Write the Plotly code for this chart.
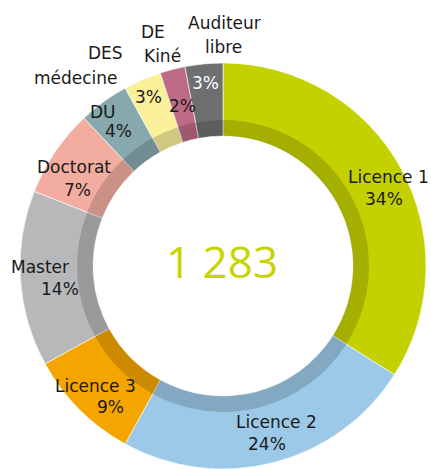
import plotly.graph_objects as go

# ---- data ----
categories = ["Licence 1", "Licence 2", "Licence 3", "Master", "Doctorat",
              "DU", "DES médecine", "DE Kiné", "Auditeur libre"]
shares = [34, 24, 9, 14, 7, 4, 3, 2, 3]
total_label = "1 283"
colors = ["#c4d100", "#9dc9e8", "#f5a500", "#b7b8ba", "#f2aca0",
          "#87a8ad", "#faf09a", "#bd6a87", "#6e6f71"]

# ---- layout ----
W, H = 431, 469
FONT = "DejaVu Sans"
cx, r_out, r_mid, r_in = 223, 203, 146, 130
cy_b = 203  # centre from bottom (px)


def dom(r):
    return dict(x=[(cx - r) / W, (cx + r) / W], y=[(cy_b - r) / H, (cy_b + r) / H])


fig = go.Figure()
fig.add_trace(go.Pie(
    values=shares, labels=categories, sort=False, direction="clockwise",
    rotation=0, hole=r_in / r_out, marker=dict(colors=colors, line=dict(color="white", width=0.6)),
    textinfo="none", hoverinfo="label+percent", domain=dom(r_out), showlegend=False,
))
fig.add_trace(go.Pie(
    values=shares, labels=categories, sort=False, direction="clockwise",
    rotation=0, hole=r_in / r_mid,
    marker=dict(colors=["rgba(0,0,0,0.16)"] * len(shares), line=dict(width=0)),
    textinfo="none", hoverinfo="skip", domain=dom(r_mid), showlegend=False,
))

# label lines: (text, x px, y px, colour)
label_lines = [
    ("Licence 1", 388, 177, "#1a1a1a"), ("34%", 384, 199, "#1a1a1a"),
    ("Licence 2", 276, 422, "#1a1a1a"), ("24%", 267, 444, "#1a1a1a"),
    ("Licence 3", 95, 386, "#1a1a1a"), ("9%", 111, 407, "#1a1a1a"),
    ("Master", 40, 267, "#1a1a1a"), ("14%", 60, 289, "#1a1a1a"),
    ("Doctorat", 74, 167, "#1a1a1a"), ("7%", 77, 190, "#1a1a1a"),
    ("DU", 103, 112, "#1a1a1a"), ("4%", 119, 131, "#1a1a1a"),
    ("DES", 105, 53, "#1a1a1a"), ("médecine", 76, 78, "#1a1a1a"),
    ("3%", 148, 97, "#1a1a1a"),
    ("DE", 153, 32, "#1a1a1a"), ("Kiné", 162, 56, "#1a1a1a"),
    ("2%", 182, 106, "#1a1a1a"),
    ("Auditeur", 224, 23, "#1a1a1a"), ("libre", 223, 47, "#1a1a1a"),
    ("3%", 205, 83, "#ffffff"),
]

annotations = []
for t, x, y, c in label_lines:
    annotations.append(dict(text=t, x=x / W, y=1 - y / H, xref="paper", yref="paper",
                            xanchor="center", yanchor="middle", showarrow=False,
                            font=dict(family=FONT, size=17, color=c)))
annotations.append(dict(text=total_label, x=222 / W, y=1 - 261 / H, xref="paper", yref="paper",
                        xanchor="center", yanchor="middle", showarrow=False,
                        font=dict(family="Open Sans", size=44, color="#c8d400")))

fig.update_layout(width=W, height=H, margin=dict(l=0, r=0, t=0, b=0),
                  paper_bgcolor="white", plot_bgcolor="white",
                  annotations=annotations)
fig.write_html("out.html", config={"displayModeBar": False},
               post_script="document.body.style.margin='0';document.body.style.padding='0';"
                           "document.body.style.overflow='hidden';")
